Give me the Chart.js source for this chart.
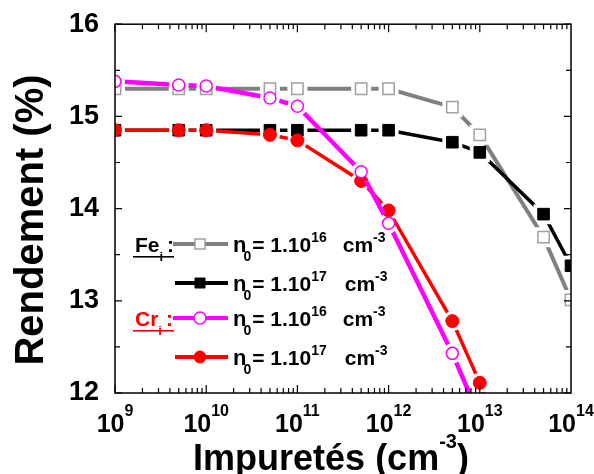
<!DOCTYPE html>
<html>
<head>
<meta charset="utf-8">
<script src="https://cdn.jsdelivr.net/npm/chart.js@4.4.1/dist/chart.umd.min.js"></script>
<style>
  html, body { margin: 0; padding: 0; background: #fff; }
</style>
</head>
<body>
<canvas id="chart" width="594" height="474"></canvas>
<script>
// Impurity concentrations (cm-3) on the x axis
const impurities = [1e9, 5e9, 1e10, 5e10, 1e11, 5e11, 1e12, 5e12, 1e13, 5e13, 1e14]

// Efficiency (%) for each impurity / doping case
const feN16 = [15.30, 15.30, 15.30, 15.30, 15.30, 15.30, 15.30, 15.10, 14.80, 13.69, 13.01]
const feN17 = [14.85, 14.85, 14.85, 14.85, 14.85, 14.85, 14.85, 14.72, 14.61, 13.94, 13.38]
const crN16 = [15.38, 15.34, 15.33, 15.20, 15.11, 14.40, 13.84, 12.43, 11.73]
const crN17 = [14.85, 14.85, 14.85, 14.80, 14.74, 14.30, 13.98, 12.78, 12.11, 10.00]

const decades = [9, 10, 11, 12, 13, 14]
const legendGroups = ['Fe', 'Cr']
const legendExponents = ['16', '17', '16', '17']

const FONT = '"Liberation Sans", Arial, sans-serif'
const font = size => 'bold ' + size + 'px ' + FONT

function toPoints(values) {
  return values.map((v, i) => ({ x: impurities[i], y: v }))
}

// style of each curve, bottom to top
const curves = [
  { values: feN16, color: '#808080', width: 4, style: 'rect', radius: 8, fill: '#ffffff', edge: '#a0a0a0', edgeWidth: 1.5, gap: 10 },
  { values: feN17, color: '#000000', width: 3.5, style: 'rect', radius: 8.2, fill: '#000000', edge: '#000000', edgeWidth: 1, gap: 10 },
  { values: crN17, color: '#ff0000', width: 3.5, style: 'circle', radius: 6.5, fill: '#ff0000', edge: '#ff0000', edgeWidth: 1, gap: 10 },
  { values: crN16, color: '#ff00ff', width: 4.5, style: 'circle', radius: 6, fill: '#ffffff', edge: '#ff00ff', edgeWidth: 1.5, gap: 10 }
]

const datasets = []
curves.forEach((c, i) => {
  const order = (curves.length - i) * 2
  datasets.push({
    data: toPoints(c.values),
    borderColor: c.color,
    borderWidth: c.width,
    pointRadius: 0,
    tension: 0,
    gap: c.gap,
    gapShape: c.style,
    order: order + 1
  })
  datasets.push({
    data: toPoints(c.values),
    showLine: false,
    pointStyle: c.style,
    pointRadius: c.radius,
    pointBackgroundColor: c.fill,
    pointBorderColor: c.edge,
    pointBorderWidth: c.edgeWidth,
    order: order
  })
})

// cut the line around its own markers, like the Origin plot
const markerGaps = {
  id: 'markerGaps',
  beforeDatasetDraw(chart, args) {
    const ds = chart.data.datasets[args.index]
    if (!ds.gap) return
    const ctx = chart.ctx
    const g = ds.gap
    ctx.save()
    ctx.beginPath()
    ctx.rect(0, 0, chart.width, chart.height)
    args.meta.data.forEach(pt => {
      if (ds.gapShape === 'rect') {
        ctx.rect(pt.x - g, pt.y - g, g * 2, g * 2)
      } else {
        ctx.moveTo(pt.x + g, pt.y)
        ctx.arc(pt.x, pt.y, g, 0, Math.PI * 2)
      }
    })
    ctx.clip('evenodd')
  },
  afterDatasetDraw(chart, args) {
    if (chart.data.datasets[args.index].gap) chart.ctx.restore()
  }
}

function runsWidth(ctx, runs) {
  let w = 0
  runs.forEach(r => {
    ctx.font = font(r.size)
    w += ctx.measureText(r.text).width + (r.dx || 0)
  })
  return w
}

function drawRuns(ctx, x, y, runs) {
  runs.forEach(r => {
    ctx.font = font(r.size)
    x += (r.dx || 0)
    ctx.fillText(r.text, x, y + (r.dy || 0))
    x += ctx.measureText(r.text).width
  })
  return x
}

const frameAndText = {
  id: 'frameAndText',
  afterDatasetsDraw(chart) {
    const ctx = chart.ctx
    const a = chart.chartArea
    const xs = chart.scales.x
    const ys = chart.scales.y
    ctx.save()
    ctx.strokeStyle = '#000'
    ctx.lineWidth = 1.5
    ctx.strokeRect(a.left, a.top, a.right - a.left, a.bottom - a.top)

    ctx.beginPath()
    ctx.lineWidth = 1.2
    for (let d = 9; d < 14; d++) {
      for (let k = 1; k < 10; k++) {
        const px = xs.getPixelForValue(k * Math.pow(10, d))
        const len = k === 1 ? 8 : 5
        ctx.moveTo(px, a.bottom); ctx.lineTo(px, a.bottom - len)
        ctx.moveTo(px, a.top); ctx.lineTo(px, a.top + len)
      }
    }
    for (let v = 12; v <= 16; v += 0.5) {
      const py = ys.getPixelForValue(v)
      const len = Number.isInteger(v) ? 7 : 5
      ctx.moveTo(a.left, py); ctx.lineTo(a.left + len, py)
      ctx.moveTo(a.right, py); ctx.lineTo(a.right - len, py)
    }
    ctx.stroke()
    ctx.restore()
  },
  afterDraw(chart) {
    const ctx = chart.ctx
    const xs = chart.scales.x
    ctx.save()
    ctx.fillStyle = '#000'
    ctx.textBaseline = 'alphabetic'
    ctx.textAlign = 'left'

    // decade labels 10^n
    decades.forEach(d => {
      const runs = [{ text: '10', size: 25 }, { text: String(d), size: 16, dy: -16 }]
      const w = runsWidth(ctx, runs)
      drawRuns(ctx, xs.getPixelForValue(Math.pow(10, d)) - w / 2, 432, runs)
    })

    // x title
    const xt = [{ text: 'Impuretés (cm', size: 36 }, { text: '-3', size: 20, dy: -22 }, { text: ')', size: 36 }]
    drawRuns(ctx, 331 - runsWidth(ctx, xt) / 2, 470, xt)

    // y title
    ctx.save()
    ctx.translate(43, 220)
    ctx.rotate(-Math.PI / 2)
    ctx.textAlign = 'center'
    ctx.font = font(40)
    ctx.fillText('Rendement (%)', 0, 0)
    ctx.restore()

    // legend
    const rowsY = [244, 283, 318, 357]
    const order = [0, 1, 3, 2]
    rowsY.forEach((ry, i) => {
      const c = curves[order[i]]
      ctx.strokeStyle = c.color
      ctx.lineWidth = 4
      ctx.beginPath()
      ctx.moveTo(i % 2 === 0 ? 173 : 175, ry)
      ctx.lineTo(228, ry)
      ctx.stroke()
      ctx.fillStyle = c.fill
      ctx.strokeStyle = c.edge
      ctx.lineWidth = c.edgeWidth
      ctx.beginPath()
      if (c.style === 'rect') ctx.rect(195, ry - 5, 10, 10)
      else ctx.arc(200, ry, 6, 0, Math.PI * 2)
      ctx.fill()
      ctx.stroke()

      ctx.fillStyle = '#000'
      let x = drawRuns(ctx, 233, ry + 8, [{ text: 'n', size: 22 }])
      x = drawRuns(ctx, x - 3, ry + 8, [{ text: '0', size: 14, dy: 9 }])
      x = drawRuns(ctx, x + 1, ry + 8, [{ text: '= 1.10', size: 21 }])
      x = drawRuns(ctx, x, ry + 8, [{ text: legendExponents[i], size: 14, dy: -10 }])
      drawRuns(ctx, x + (i % 2 === 0 ? 16 : 18), ry + 8, [{ text: 'cm', size: 21 }, { text: '-3', size: 14, dy: -10 }])

      if (i % 2 === 0) {
        const color = i === 0 ? '#000' : '#ff0000'
        ctx.fillStyle = color
        let gx = drawRuns(ctx, 135, ry + 8, [{ text: legendGroups[i / 2], size: 21 }])
        gx = drawRuns(ctx, gx, ry + 8, [{ text: 'i', size: 13, dy: 9 }])
        drawRuns(ctx, gx + 4, ry + 8, [{ text: ':', size: 21 }])
        ctx.fillRect(133, ry + 12, 41, 1.6)
      }
    })
    ctx.restore()
  }
}

new Chart(document.getElementById('chart'), {
  type: 'line',
  data: { datasets: datasets },
  options: {
    responsive: false,
    animation: false,
    layout: { padding: { top: 24, right: 23, left: 0, bottom: 0 } },
    plugins: {
      legend: { display: false },
      tooltip: { enabled: false }
    },
    scales: {
      x: {
        type: 'logarithmic',
        min: 1e9,
        max: 1e14,
        grid: { display: false },
        border: { display: false },
        ticks: { display: false },
        afterFit: s => { s.height = 81 }
      },
      y: {
        min: 12,
        max: 16,
        ticks: {
          stepSize: 1,
          padding: 8,
          color: '#000',
          font: { family: FONT, size: 27, weight: 'bold' }
        },
        grid: { display: false },
        border: { display: false },
        afterFit: s => { s.width = 115 }
      }
    }
  },
  plugins: [markerGaps, frameAndText]
})
</script>
</body>
</html>
